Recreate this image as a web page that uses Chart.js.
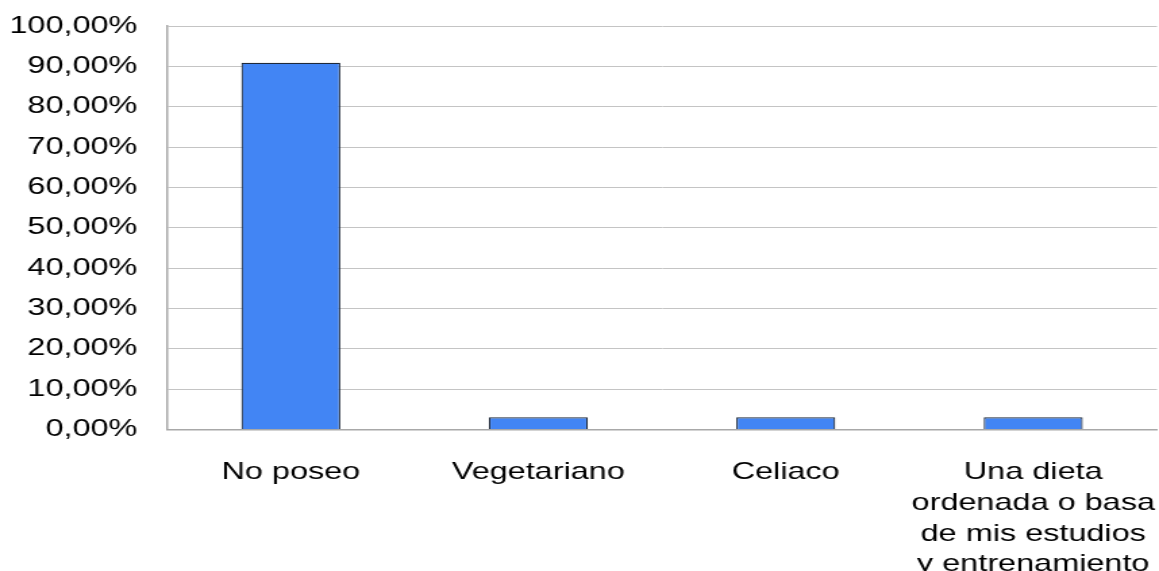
<!DOCTYPE html>
<html>
<head>
<meta charset="utf-8">
<script src="https://cdn.jsdelivr.net/npm/chart.js@4"></script>
<style>
    html, body { margin: 0; padding: 0; background: #ffffff; overflow: hidden; }
    /* the reference looks stretched sideways, so draw narrow and stretch */
    #wrap { width: 858px; height: 571px; transform: scaleX(1.3508); transform-origin: 0 0; }
</style>
</head>
<body>
<div id="wrap"><canvas id="dietChart"></canvas></div>
<script>
const categories = ['No poseo', 'Vegetariano', 'Celiaco', ['Una dieta', 'ordenada o basa', 'de mis estudios', 'y entrenamiento']];
const percentValues = [90.91, 3.03, 3.03, 3.03];
const yTicks = [0, 10, 20, 30, 40, 50, 60, 70, 80, 90, 100];

const ctx = document.getElementById('dietChart').getContext('2d');
new Chart(ctx, {
    type: 'bar',
    data: {
        labels: categories,
        datasets: [{
            data: percentValues,
            backgroundColor: '#4285f4',
            borderColor: '#1f2a3a',
            borderWidth: 1.2,
            barPercentage: 0.4,
            categoryPercentage: 1
        }]
    },
    options: {
        responsive: true,
        maintainAspectRatio: false,
        animation: false,
        layout: { padding: { top: 26, right: 1.5, bottom: 0, left: 0 } },
        plugins: { legend: { display: false }, tooltip: { enabled: false } },
        scales: {
            x: {
                grid: { display: false, drawTicks: false },
                border: { color: '#a8a8a8', width: 1.5 },
                ticks: {
                    color: '#000000',
                    padding: 27,
                    maxRotation: 0,
                    autoSkip: false,
                    font: { family: 'Liberation Sans', size: 24, lineHeight: 1.29 }
                },
                afterFit: function(scale) {
                    scale.height = 141.5;
                    scale.paddingLeft = 0;
                    scale.paddingRight = 0;
                }
            },
            y: {
                min: 0,
                max: 100,
                afterBuildTicks: function(scale) {
                    scale.ticks = yTicks.map(v => ({ value: v }));
                },
                grid: { color: '#c4c4c4', lineWidth: 1, drawTicks: false },
                border: { color: '#a8a8a8', width: 1.5 },
                ticks: {
                    color: '#000000',
                    padding: 22,
                    font: { family: 'Liberation Sans', size: 24 },
                    callback: function(v) { return v.toFixed(2).replace('.', ',') + '%'; }
                },
                afterFit: function(scale) {
                    scale.width = 123.7;
                    scale.paddingTop = 0;
                    scale.paddingBottom = 0;
                }
            }
        }
    }
});
</script>
</body>
</html>
